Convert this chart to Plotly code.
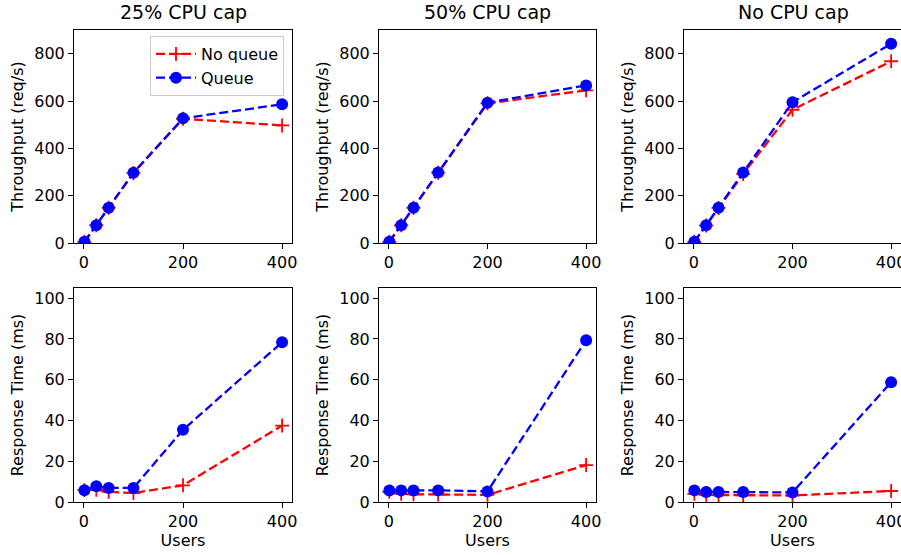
import plotly.graph_objects as go

users = [1, 25, 50, 100, 200, 400]
titles = ["25% CPU cap", "50% CPU cap", "No CPU cap"]

thr_noqueue = {
    "25% CPU cap": [5, 75, 149, 296, 525, 497],
    "50% CPU cap": [5, 75, 149, 297, 590, 645],
    "No CPU cap": [5, 74, 148, 292, 563, 768],
}
thr_queue = {
    "25% CPU cap": [5, 75, 149, 297, 527, 586],
    "50% CPU cap": [5, 75, 149, 298, 593, 666],
    "No CPU cap": [5, 75, 149, 298, 595, 842],
}
rt_noqueue = {
    "25% CPU cap": [5.8, 6.0, 5.0, 4.4, 8.2, 37.5],
    "50% CPU cap": [5.0, 4.0, 3.8, 3.7, 3.5, 18.1],
    "No CPU cap": [4.0, 3.5, 3.4, 3.3, 3.2, 5.4],
}
rt_queue = {
    "25% CPU cap": [5.8, 7.7, 6.9, 6.9, 35.4, 78.4],
    "50% CPU cap": [5.6, 5.7, 5.6, 5.7, 5.2, 79.4],
    "No CPU cap": [5.7, 4.9, 4.9, 4.9, 4.7, 58.8],
}

W, H = 901, 555
col_px = [(74, 292), (379, 596), (684, 902)]
row_px = [(30, 243), (288, 502)]

FONT = "DejaVu Sans"
TICK = 16
TITLE = 19
fig = go.Figure()

def xd(c):
    a, b = col_px[c]
    return [a / W, min(b / W, 1.0)]

def yd(r):
    a, b = row_px[r]
    return [1 - b / H, 1 - a / H]

dash = "9px,4px"
red_kw = dict(mode="lines+markers", line=dict(color="red", width=2.3, dash=dash),
              marker=dict(symbol="cross-thin", size=10, line=dict(color="red", width=1.8), color="red"))
blue_kw = dict(mode="lines+markers", line=dict(color="blue", width=2.3, dash=dash),
               marker=dict(symbol="circle", size=12, color="blue"))

ax_common = dict(showline=True, linecolor="black", linewidth=1, mirror=True,
                 ticks="outside", ticklen=5, tickwidth=1, tickcolor="black",
                 showgrid=False, zeroline=False, automargin=False,
                 ticklabeloverflow="allow",
                 tickfont=dict(family=FONT, size=TICK, color="black"))

idx = 0
for r in range(2):
    for c in range(3):
        idx += 1
        t = titles[c]
        xa = "x" if idx == 1 else f"x{idx}"
        ya = "y" if idx == 1 else f"y{idx}"
        if r == 0:
            y1, y2 = thr_noqueue[t], thr_queue[t]
        else:
            y1, y2 = rt_noqueue[t], rt_queue[t]
        fig.add_trace(go.Scatter(x=users, y=y1, name="No queue", xaxis=xa, yaxis=ya,
                                 showlegend=(idx == 1), **red_kw))
        fig.add_trace(go.Scatter(x=users, y=y2, name="Queue", xaxis=xa, yaxis=ya,
                                 showlegend=(idx == 1), **blue_kw))
        xkey = "xaxis" if idx == 1 else f"xaxis{idx}"
        ykey = "yaxis" if idx == 1 else f"yaxis{idx}"
        xcfg = dict(ax_common, domain=xd(c), anchor=ya, range=[-20, 420],
                    tickvals=[0, 200, 400])
        if r == 1:
            xcfg["title"] = dict(text="Users", font=dict(family=FONT, size=TICK, color="black"), standoff=4)
        if r == 0:
            ycfg = dict(ax_common, domain=yd(r), anchor=xa, range=[0, 900],
                        tickvals=[0, 200, 400, 600, 800],
                        title=dict(text="Throughput (req/s)", font=dict(family=FONT, size=TICK, color="black"), standoff=6))
        else:
            ycfg = dict(ax_common, domain=yd(r), anchor=xa, range=[0, 105],
                        tickvals=[0, 20, 40, 60, 80, 100],
                        title=dict(text="Response Time (ms)", font=dict(family=FONT, size=TICK, color="black"), standoff=6))
        fig.update_layout({xkey: xcfg, ykey: ycfg})

for c in range(3):
    a, b = col_px[c]
    fig.add_annotation(text=titles[c], x=(a + b) / 2 / W, y=1 - 25 / H, xref="paper", yref="paper",
                       xanchor="center", yanchor="bottom", showarrow=False,
                       font=dict(family=FONT, size=TITLE, color="black"))

fig.update_layout(
    width=W, height=H,
    margin=dict(l=0, r=0, t=0, b=0),
    paper_bgcolor="white", plot_bgcolor="white",
    font=dict(family=FONT, size=TICK, color="black"),
    legend=dict(x=284 / W, y=1 - 36 / H, xanchor="right", yanchor="top",
                bgcolor="rgba(255,255,255,0.8)", bordercolor="#cccccc", borderwidth=1,
                font=dict(family=FONT, size=TICK, color="black"), itemwidth=40,
                tracegroupgap=0),
)

fig.write_html("out.html")
